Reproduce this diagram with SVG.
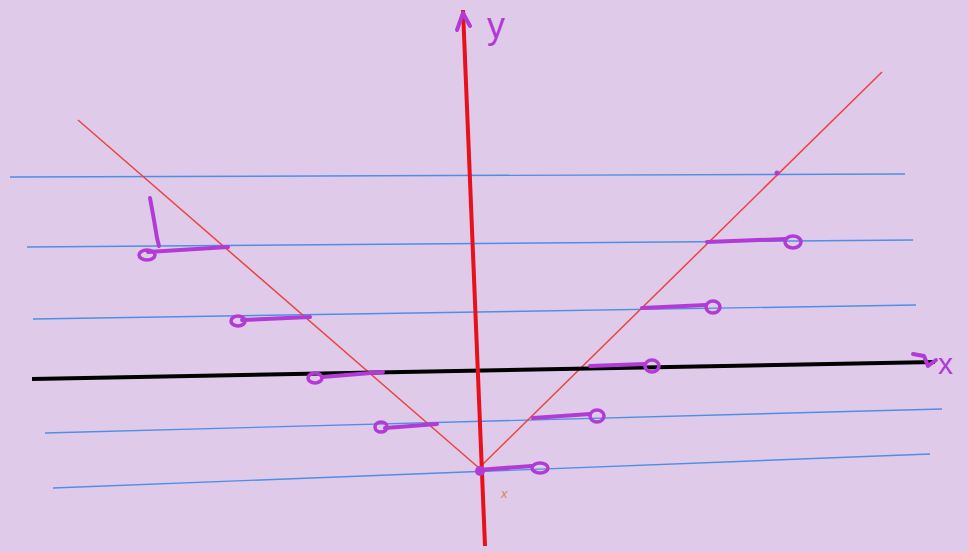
<svg xmlns="http://www.w3.org/2000/svg" width="968" height="552" viewBox="0 0 968 552">
<style>
.blue{stroke:#4d8fe6;stroke-width:1.4;fill:none}
.thin{stroke:#e8453f;stroke-width:1.5;fill:none}
.pen{stroke:#b23bd6;stroke-width:4;fill:none;stroke-linecap:round;stroke-linejoin:round}
.loop{stroke:#b23bd6;stroke-width:3.5;fill:none}
.lbl{font-family:"Liberation Sans",Arial,sans-serif;fill:#b23bd6}
</style>
<rect width="968" height="552" fill="#dfcaea"/>
<g id="connectors">
<line class="blue" x1="10" y1="177" x2="905" y2="174"/>
<line class="blue" x1="27" y1="247" x2="913" y2="240"/>
<line class="blue" x1="33" y1="319" x2="916" y2="305"/>
<line class="blue" x1="45" y1="433" x2="942" y2="409"/>
<line class="blue" x1="53" y1="488" x2="930" y2="454"/>
<line class="thin" x1="78" y1="120" x2="479" y2="468"/>
<line class="thin" x1="479" y1="468" x2="882" y2="72"/>
<line x1="32" y1="379" x2="935" y2="362" stroke="#000" stroke-width="4"/>
<line x1="463" y1="10" x2="485" y2="546" stroke="#e8101a" stroke-width="4"/>
</g>
<g id="marks">
<path class="pen" d="M228,247 L148,252"/><ellipse class="loop" cx="147" cy="255" rx="8" ry="5"/>
<path class="pen" d="M150,198 L154,220 L157,238 L159,246"/>
<path class="pen" d="M310,317 L242,320"/><ellipse class="loop" cx="238" cy="321" rx="7" ry="5"/>
<path class="pen" d="M383,372 L322,377"/><ellipse class="loop" cx="315" cy="378" rx="7" ry="5"/>
<path class="pen" d="M437,424 L385,428"/><ellipse class="loop" cx="381" cy="427" rx="6" ry="5"/>
<path class="pen" d="M707,242 L785,239"/><ellipse class="loop" cx="793" cy="242" rx="8" ry="6"/>
<path class="pen" d="M642,308 L706,305"/><ellipse class="loop" cx="713" cy="307" rx="7" ry="6"/>
<path class="pen" d="M590,366 L645,364"/><ellipse class="loop" cx="652" cy="366" rx="7" ry="6"/>
<path class="pen" d="M533,418 L590,414"/><ellipse class="loop" cx="597" cy="416" rx="7" ry="6"/>
<path class="pen" d="M478,470 L532,466"/><ellipse class="loop" cx="540" cy="468" rx="8" ry="5"/>
<circle cx="480" cy="471" r="5" fill="#b23bd6"/>
<circle cx="777" cy="173" r="2.5" fill="#b23bd6"/>
<path class="pen" d="M457,30 L463,13 L470,26"/>
<path class="pen" d="M913,354 L924,356 L928,366 L936,360"/>
</g>
<g id="labels">
<text class="lbl" x="487" y="38" font-size="36">y</text>
<text class="lbl" x="938" y="374" font-size="30">x</text>
<text x="501" y="498" font-size="13" font-family="Liberation Sans,Arial,sans-serif" fill="#e0805a" font-style="italic">x</text>
</g>
</svg>
